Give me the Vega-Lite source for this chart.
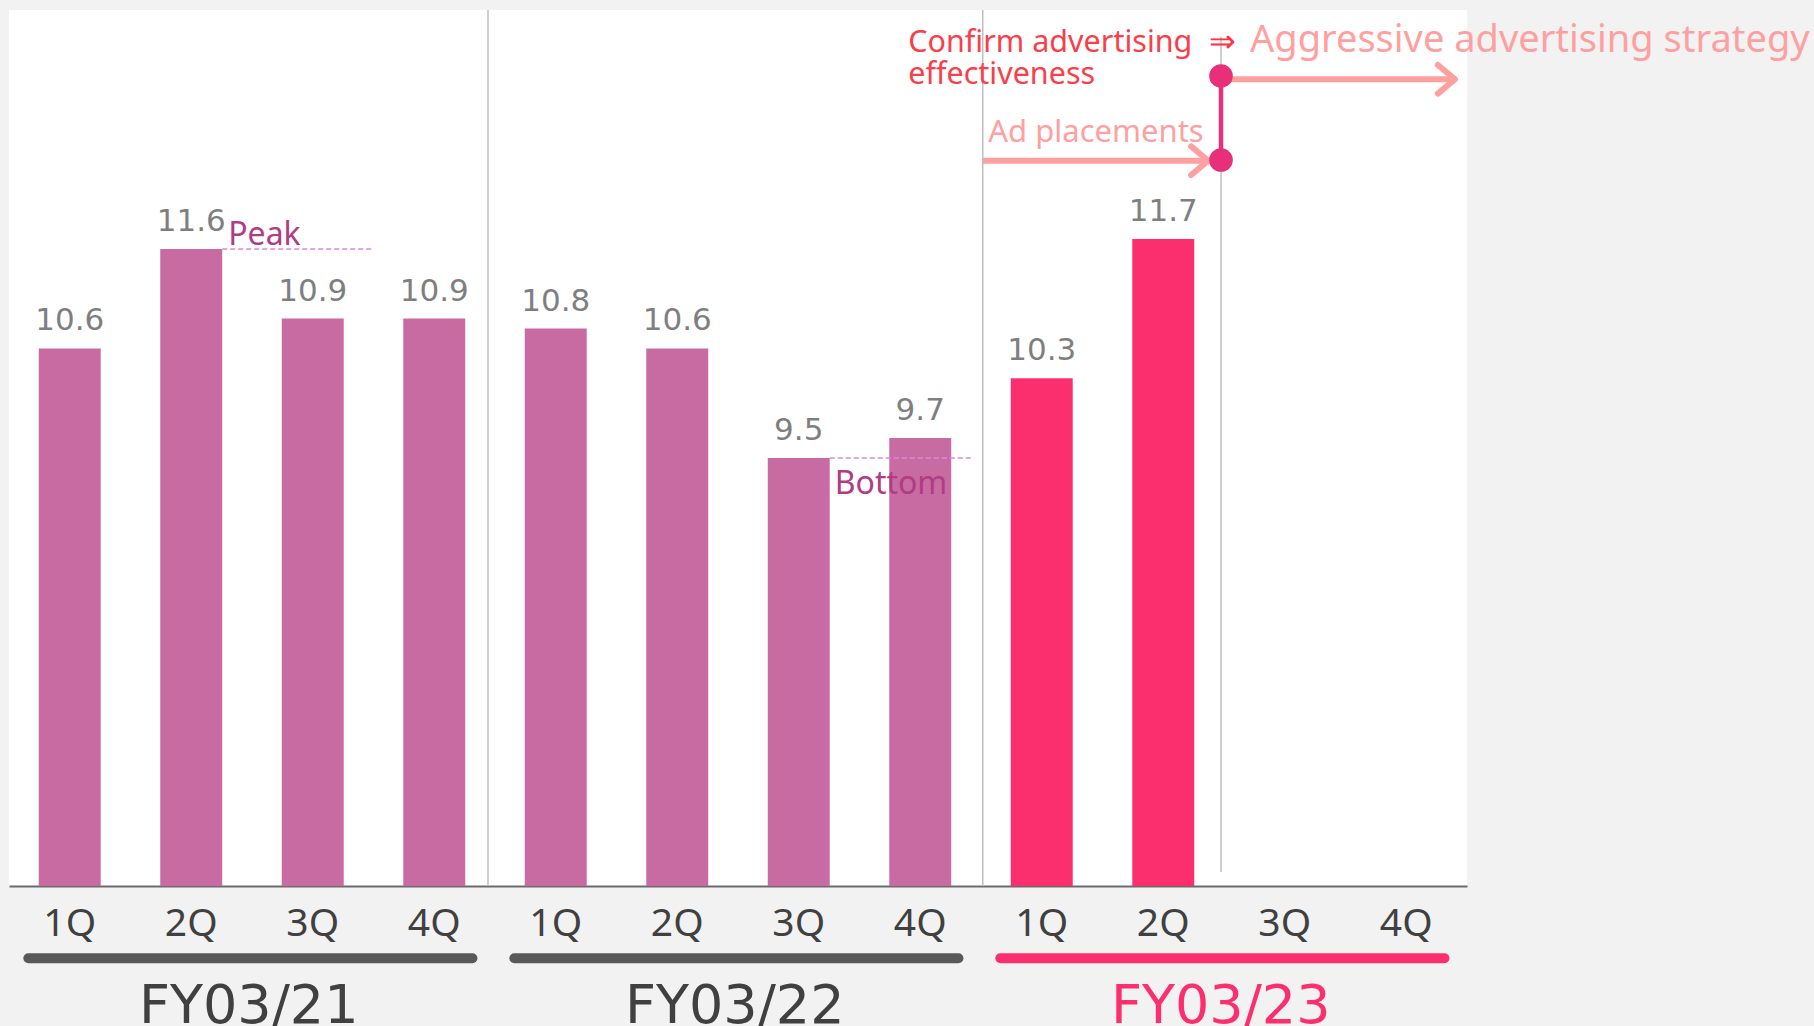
{
  "$schema": "https://vega.github.io/schema/vega-lite/v6.json",
  "width": 1458,
  "height": 876,
  "autosize": {"type": "none"},
  "padding": {"left": 9, "top": 10, "right": 347, "bottom": 140},
  "background": "#f2f2f2",
  "view": {"fill": "#ffffff", "stroke": null},
  "config": {"font": "Noto Sans", "text": {"font": "Noto Sans"}},
  "datasets": {
    "sales": [
      {"q": "FY03/21 1Q", "fy": "FY03/21", "value": 10.6},
      {"q": "FY03/21 2Q", "fy": "FY03/21", "value": 11.6},
      {"q": "FY03/21 3Q", "fy": "FY03/21", "value": 10.9},
      {"q": "FY03/21 4Q", "fy": "FY03/21", "value": 10.9},
      {"q": "FY03/22 1Q", "fy": "FY03/22", "value": 10.8},
      {"q": "FY03/22 2Q", "fy": "FY03/22", "value": 10.6},
      {"q": "FY03/22 3Q", "fy": "FY03/22", "value": 9.5},
      {"q": "FY03/22 4Q", "fy": "FY03/22", "value": 9.7},
      {"q": "FY03/23 1Q", "fy": "FY03/23", "value": 10.3},
      {"q": "FY03/23 2Q", "fy": "FY03/23", "value": 11.7}
    ],
    "groups": [
      {"fy": "FY03/21", "first": "FY03/21 1Q", "last": "FY03/21 4Q", "mid": "FY03/21 3Q"},
      {"fy": "FY03/22", "first": "FY03/22 1Q", "last": "FY03/22 4Q", "mid": "FY03/22 3Q"},
      {"fy": "FY03/23", "first": "FY03/23 1Q", "last": "FY03/23 4Q", "mid": "FY03/23 3Q"}
    ],
    "one": [{}]
  },
  "layer": [
    {
      "data": {"name": "sales"},
      "mark": {"type": "bar"},
      "encoding": {
        "x": {
          "field": "q", "type": "nominal", "title": null,
          "scale": {
            "domain": ["FY03/21 1Q", "FY03/21 2Q", "FY03/21 3Q", "FY03/21 4Q", "FY03/22 1Q", "FY03/22 2Q", "FY03/22 3Q", "FY03/22 4Q", "FY03/23 1Q", "FY03/23 2Q", "FY03/23 3Q", "FY03/23 4Q"],
            "paddingInner": 0.49, "paddingOuter": 0.245
          },
          "axis": {
            "title": null, "labelExpr": "split(datum.label, ' ')[1]", "labelAngle": 0,
            "ticks": false, "tickSize": 0, "labelPadding": 18, "labelFontSize": 39,
            "labelColor": "#404040", "labelFont": "Noto Sans", "grid": false,
            "domainColor": "#6b6b6b", "domainWidth": 2
          }
        },
        "y": {"field": "value", "type": "quantitative", "scale": {"domain": [5.2, 14.0], "nice": false, "zero": false}, "axis": null},
        "y2": {"datum": 5.2},
        "color": {"condition": {"test": "datum.fy === 'FY03/23'", "value": "#fc2f6e"}, "value": "#c86ba2"}
      }
    },
    {
      "data": {"name": "one"},
      "mark": {"type": "rule", "color": "#bfbfbf", "strokeWidth": 1.5, "xOffset": -67.75},
      "encoding": {"x": {"datum": "FY03/22 1Q", "title": null}}
    },
    {
      "data": {"name": "one"},
      "mark": {"type": "rule", "color": "#bfbfbf", "strokeWidth": 1.5, "xOffset": -59},
      "encoding": {"x": {"datum": "FY03/23 1Q", "title": null}}
    },
    {
      "data": {"name": "one"},
      "mark": {"type": "rule", "color": "#bfbfbf", "strokeWidth": 1.5, "xOffset": -63.75},
      "encoding": {"x": {"datum": "FY03/23 3Q", "title": null}, "y": {"datum": 13.73}, "y2": {"datum": 5.34}}
    },
    {
      "data": {"name": "sales"},
      "mark": {"type": "text", "baseline": "alphabetic", "align": "center", "dy": -18, "font": "DejaVu Sans", "fontSize": 31, "color": "#7f7f7f"},
      "encoding": {
        "x": {"field": "q", "type": "nominal", "title": null},
        "y": {"field": "value", "type": "quantitative"},
        "text": {"field": "value", "type": "quantitative", "format": ".1f"}
      }
    },
    {
      "data": {"name": "one"},
      "mark": {"type": "rule", "color": "#d88ad8", "strokeWidth": 1.5, "strokeDash": [5, 3], "xOffset": 31, "x2Offset": 61},
      "encoding": {"x": {"datum": "FY03/21 2Q", "title": null}, "x2": {"datum": "FY03/21 3Q"}, "y": {"datum": 11.6}}
    },
    {
      "data": {"name": "one"},
      "mark": {"type": "text", "text": "Peak", "align": "left", "baseline": "alphabetic", "dx": 37, "dy": -4, "fontSize": 32, "color": "#b03c84"},
      "encoding": {"x": {"datum": "FY03/21 2Q", "title": null}, "y": {"datum": 11.6}}
    },
    {
      "data": {"name": "one"},
      "mark": {"type": "rule", "color": "#d88ad8", "strokeWidth": 1.5, "strokeDash": [5, 3], "xOffset": 31, "x2Offset": 52},
      "encoding": {"x": {"datum": "FY03/22 3Q", "title": null}, "x2": {"datum": "FY03/22 4Q"}, "y": {"datum": 9.5}}
    },
    {
      "data": {"name": "one"},
      "mark": {"type": "text", "text": "Bottom", "align": "left", "baseline": "alphabetic", "dx": 36, "dy": 36, "fontSize": 32, "color": "#b03c84"},
      "encoding": {"x": {"datum": "FY03/22 3Q", "title": null}, "y": {"datum": 9.5}}
    },
    {
      "data": {"name": "one"},
      "mark": {"type": "rule", "color": "#ffa0a0", "strokeWidth": 6, "xOffset": -59, "x2Offset": -63.75},
      "encoding": {"x": {"datum": "FY03/23 1Q", "title": null}, "x2": {"datum": "FY03/23 3Q"}, "y": {"datum": 12.486}}
    },
    {
      "data": {"name": "one"},
      "mark": {"type": "rule", "color": "#ffa0a0", "strokeWidth": 6, "xOffset": -63.75, "x2Offset": 46},
      "encoding": {"x": {"datum": "FY03/23 3Q", "title": null}, "x2": {"datum": "FY03/23 4Q"}, "y": {"datum": 13.304}}
    },
    {
      "data": {"name": "one"},
      "mark": {"type": "point", "shape": "M-1.2,-1L0,0L-1.2,1", "filled": false, "size": 818, "stroke": "#ffa0a0", "strokeWidth": 6, "strokeCap": "round", "strokeJoin": "round", "opacity": 1, "xOffset": -76.5},
      "encoding": {"x": {"datum": "FY03/23 3Q", "title": null}, "y": {"datum": 12.486}}
    },
    {
      "data": {"name": "one"},
      "mark": {"type": "point", "shape": "M-1.2,-1L0,0L-1.2,1", "filled": false, "size": 818, "stroke": "#ffa0a0", "strokeWidth": 6, "strokeCap": "round", "strokeJoin": "round", "opacity": 1, "xOffset": 48.75},
      "encoding": {"x": {"datum": "FY03/23 4Q", "title": null}, "y": {"datum": 13.304}}
    },
    {
      "data": {"name": "one"},
      "mark": {"type": "rule", "color": "#e8307a", "strokeWidth": 4.5, "xOffset": -63.75},
      "encoding": {"x": {"datum": "FY03/23 3Q", "title": null}, "y": {"datum": 13.337}, "y2": {"datum": 12.493}}
    },
    {
      "data": {"name": "one"},
      "mark": {"type": "point", "shape": "circle", "filled": true, "size": 560, "color": "#e8307a", "opacity": 1, "xOffset": -63.75},
      "encoding": {"x": {"datum": "FY03/23 3Q", "title": null}, "y": {"datum": 13.337}}
    },
    {
      "data": {"name": "one"},
      "mark": {"type": "point", "shape": "circle", "filled": true, "size": 560, "color": "#e8307a", "opacity": 1, "xOffset": -63.75},
      "encoding": {"x": {"datum": "FY03/23 3Q", "title": null}, "y": {"datum": 12.493}}
    },
    {
      "data": {"name": "one"},
      "mark": {"type": "text", "text": ["Confirm advertising", "effectiveness"], "lineHeight": 32, "align": "left", "baseline": "alphabetic", "dx": -12, "fontSize": 30.5, "color": "#fa3e4a"},
      "encoding": {"x": {"datum": "FY03/22 4Q", "title": null}, "y": {"datum": 13.583}}
    },
    {
      "data": {"name": "one"},
      "mark": {"type": "text", "text": "⇒", "align": "center", "baseline": "alphabetic", "dx": -62, "fontSize": 32, "color": "#ff3344"},
      "encoding": {"x": {"datum": "FY03/23 3Q", "title": null}, "y": {"datum": 13.583}}
    },
    {
      "data": {"name": "one"},
      "mark": {"type": "text", "text": "Aggressive advertising strategy", "align": "left", "baseline": "alphabetic", "dx": -34.75, "fontSize": 38, "color": "#ffa0a0"},
      "encoding": {"x": {"datum": "FY03/23 3Q", "title": null}, "y": {"datum": 13.583}}
    },
    {
      "data": {"name": "one"},
      "mark": {"type": "text", "text": "Ad placements", "align": "left", "baseline": "alphabetic", "dx": -53.5, "fontSize": 31, "color": "#ffa0a0"},
      "encoding": {"x": {"datum": "FY03/23 1Q", "title": null}, "y": {"datum": 12.677}}
    },
    {
      "data": {"name": "groups"},
      "mark": {"type": "rule", "strokeWidth": 10, "strokeCap": "round", "xOffset": -41.4, "x2Offset": 38.2},
      "encoding": {
        "x": {"field": "first", "type": "nominal", "title": null},
        "x2": {"field": "last"},
        "y": {"datum": 4.474},
        "color": {"condition": {"test": "datum.fy === 'FY03/23'", "value": "#fc2f6e"}, "value": "#595959"}
      }
    },
    {
      "data": {"name": "groups"},
      "mark": {"type": "text", "align": "center", "baseline": "alphabetic", "dx": -64, "font": "DejaVu Sans", "fontSize": 54},
      "encoding": {
        "x": {"field": "mid", "type": "nominal", "title": null},
        "y": {"datum": 3.824},
        "text": {"field": "fy", "type": "nominal"},
        "color": {"condition": {"test": "datum.fy === 'FY03/23'", "value": "#fc2f6e"}, "value": "#404040"}
      }
    }
  ]
}
